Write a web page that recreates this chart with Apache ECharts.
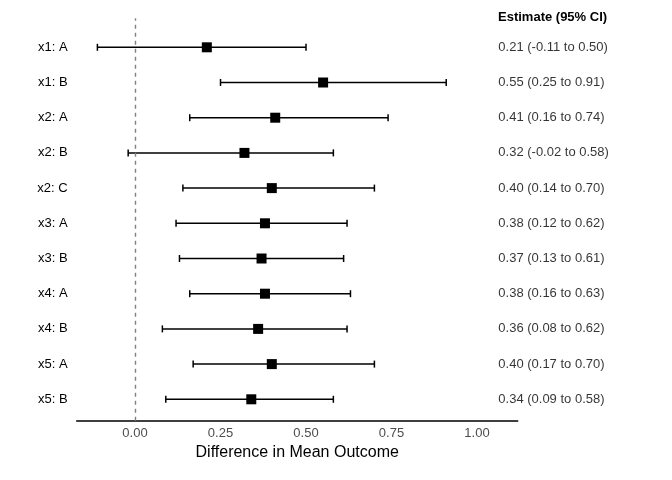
<!DOCTYPE html>
<html>
<head>
<meta charset="utf-8">
<script src="https://cdn.jsdelivr.net/npm/echarts@6/dist/echarts.min.js"></script>
<style>html,body{margin:0;padding:0;background:#fff}#c{width:672px;height:480px}</style>
</head>
<body>
<div id="c"></div>
<script>
const categories = ['x1: A','x1: B','x2: A','x2: B','x2: C','x3: A','x3: B','x4: A','x4: B','x5: A','x5: B'];
const estimates = [0.21, 0.55, 0.41, 0.32, 0.40, 0.38, 0.37, 0.38, 0.36, 0.40, 0.34];
const lower     = [-0.11, 0.25, 0.16, -0.02, 0.14, 0.12, 0.13, 0.16, 0.08, 0.17, 0.09];
const upper     = [0.50, 0.91, 0.74, 0.58, 0.70, 0.62, 0.61, 0.63, 0.62, 0.70, 0.58];
const xTicks = [0, 0.25, 0.5, 0.75, 1.0];

const FONT = 'Liberation Sans, Arial, Helvetica, sans-serif';
const n = categories.length;
const rowY = i => n - 1 - i; // top row highest
const TEXT_X = 1.0623;

const fmt = v => v.toFixed(2);
const ciText = categories.map((c, i) => fmt(estimates[i]) + ' (' + fmt(lower[i]) + ' to ' + fmt(upper[i]) + ')');

const chart = echarts.init(document.getElementById('c'), null, {renderer: 'canvas'});
chart.setOption({
  animation: false,
  backgroundColor: '#fff',
  title: {
    text: 'Estimate (95% CI)', left: 498, top: 11, padding: 0,
    textStyle: {fontFamily: FONT, fontSize: 13, fontWeight: 'bold', color: '#000'}
  },
  grid: {left: 76.7, right: 154.3, top: 18.3, bottom: 59.3, containLabel: false},
  xAxis: {
    type: 'value', min: -0.1705, max: 1.119,
    axisLine: {show: true, onZero: false, lineStyle: {color: '#000', width: 1.5}},
    axisTick: {show: false},
    splitLine: {show: false},
    axisLabel: {customValues: xTicks, formatter: v => fmt(v), color: '#4d4d4d',
      fontFamily: FONT, fontSize: 13, margin: 6},
    name: 'Difference in Mean Outcome', nameLocation: 'middle', nameGap: 22,
    nameTextStyle: {fontFamily: FONT, fontSize: 16, color: '#000'}
  },
  yAxis: {
    type: 'value', min: -0.608, max: 10.824,
    axisLine: {show: false}, axisTick: {show: false}, splitLine: {show: false},
    axisLabel: {customValues: categories.map((c, i) => rowY(i)),
      formatter: v => categories[n - 1 - Math.round(v)],
      color: '#000', fontFamily: FONT, fontSize: 13, margin: 9}
  },
  series: [
    {
      type: 'custom',
      data: categories.map((c, i) => [lower[i], upper[i], rowY(i)]),
      renderItem: (params, api) => {
        const p0 = api.coord([api.value(0), api.value(2)]);
        const p1 = api.coord([api.value(1), api.value(2)]);
        const h = 3.5;
        const st = {stroke: '#000', lineWidth: 1.5};
        return {type: 'group', children: [
          {type: 'line', shape: {x1: p0[0], y1: p0[1], x2: p1[0], y2: p1[1]}, style: st},
          {type: 'line', shape: {x1: p0[0], y1: p0[1] - h, x2: p0[0], y2: p0[1] + h}, style: st},
          {type: 'line', shape: {x1: p1[0], y1: p1[1] - h, x2: p1[0], y2: p1[1] + h}, style: st}
        ]};
      },
      markLine: {
        silent: true, symbol: 'none', label: {show: false},
        lineStyle: {color: '#808080', type: [4, 4], width: 1.4},
        data: [{xAxis: 0}]
      },
      z: 2
    },
    {
      type: 'scatter',
      data: categories.map((c, i) => [estimates[i], rowY(i)]),
      symbol: 'rect', symbolSize: 10,
      itemStyle: {color: '#000', opacity: 1},
      emphasis: {disabled: true},
      z: 3
    },
    {
      type: 'scatter',
      data: categories.map((c, i) => [TEXT_X, rowY(i)]),
      symbolSize: 0,
      label: {show: true, position: 'right', distance: 0,
        formatter: p => ciText[p.dataIndex],
        fontFamily: FONT, fontSize: 13, color: '#000'},
      emphasis: {disabled: true},
      z: 3
    }
  ]
});
</script>
</body>
</html>
